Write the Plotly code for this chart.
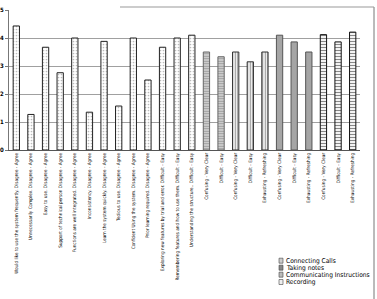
import plotly.graph_objects as go

labels = [
    "Would like to use the system frequently. Disagree - Agree",
    "Unnecessarily Complex. Disagree - Agree",
    "Easy to use. Disagree - Agree",
    "Support of technical person Disagree - Agree",
    "Functions are well integrated. Disagree - Agree",
    "Inconsistency. Disagree - Agree",
    "Learn the system quickly. Disagree - Agree",
    "Tedious to use. Disagree - Agree",
    "Confident Using the system. Disagree - Agree",
    "Prior learning required. Disagree - Agree",
    "Exploring new features by trial and error. Difficult - Easy",
    "Remembering features and how to use them. Difficult - Easy",
    "Understanding the structure.. Difficult - Easy",
    "Confusing - Very Clear",
    "Difficult - Easy",
    "Confusing - Very Clear",
    "Difficult - Easy",
    "Exhausting - Refreshing",
    "Confusing - Very Clear",
    "Difficult - Easy",
    "Exhausting - Refreshing",
    "Confusing - Very Clear",
    "Difficult - Easy",
    "Exhausting - Refreshing",
]

general_values = [4.43, 1.27, 3.67, 2.76, 4.0, 1.35, 3.88, 1.57, 4.0, 2.5, 3.67, 4.0, 4.1]
connecting_calls = [3.5, 3.33]
taking_notes = [3.5, 3.15, 3.5]
communicating_instructions = [4.1, 3.86, 3.5]
recording = [4.12, 3.86, 4.21]

series_names = ["Connecting Calls", "Taking notes", "Communicating Instructions", "Recording"]

FONT = "Liberation Sans Narrow, DejaVu Sans Condensed, Arial Narrow, sans-serif"

# layout geometry (pixels)
FW, FH = 377, 299
ML, MR, MT, MB = 9, 17, 10, 149
PW = FW - ML - MR
PH = FH - MT - MB


def px_x(px):
    return (px - ML) / PW


def px_y(py):
    return (FH - MB - py) / PH


fig = go.Figure()

groups = [
    (None, general_values, dict(shape=".", fgcolor="#777777", bgcolor="#ffffff", size=3, solidity=0.25), "#222222"),
    (series_names[0], connecting_calls, dict(shape="-", fgcolor="#555555", bgcolor="#dddddd", size=2.5, solidity=0.5), "#666666"),
    (series_names[1], taking_notes, dict(shape="|", fgcolor="#222222", bgcolor="#ffffff", size=2.5, solidity=0.45), "#333333"),
    (series_names[2], communicating_instructions, dict(shape=".", fgcolor="#555555", bgcolor="#bbbbbb", size=2, solidity=0.5), "#555555"),
    (series_names[3], recording, dict(shape="-", fgcolor="#111111", bgcolor="#ffffff", size=3, solidity=0.4), "#111111"),
]

start = 0
for name, vals, pat, line_col in groups:
    xs = list(range(start, start + len(vals)))
    start += len(vals)
    fig.add_trace(go.Bar(
        x=xs, y=vals, name=name or "",
        showlegend=False,
        width=0.43,
        marker=dict(color=pat["bgcolor"], pattern=pat,
                    line=dict(color=line_col, width=1)),
    ))

fig.update_layout(
    width=FW, height=FH,
    margin=dict(l=ML, r=MR, t=MT, b=MB),
    paper_bgcolor="white", plot_bgcolor="white",
    barmode="overlay",
    showlegend=False,
    font=dict(family=FONT, color="black"),
)

fig.update_xaxes(
    range=[-0.5, len(labels) - 0.5],
    tickmode="array",
    tickvals=list(range(len(labels))),
    ticktext=labels,
    tickangle=-90,
    tickfont=dict(size=4.7, family=FONT, color="black"),
    showline=True, linecolor="#555555", linewidth=1,
    ticks="", showgrid=False, automargin=False,
)
fig.update_yaxes(
    range=[0, 5], dtick=1,
    tickfont=dict(size=6, family="DejaVu Sans Condensed, sans-serif", color="black", weight="bold"),
    showline=True, linecolor="#777777", linewidth=1,
    ticks="outside", ticklen=3, tickcolor="#777777",
    showgrid=True, gridcolor="#a0a0a0", gridwidth=1,
    zeroline=False, automargin=False,
)

# chart frame (right and top)
fig.add_shape(type="line", xref="paper", yref="paper",
              x0=px_x(374), x1=px_x(374), y0=px_y(7), y1=px_y(299),
              line=dict(color="#777777", width=1))
fig.add_shape(type="line", xref="paper", yref="paper",
              x0=px_x(120), x1=px_x(374), y0=px_y(7), y1=px_y(7),
              line=dict(color="#999999", width=1))

# manual compact legend
leg_y = [260.7, 267.7, 274.7, 282.0]
leg_fill = ["#cccccc", "#888888", "#bbbbbb", "#eeeeee"]
for i, name in enumerate(series_names):
    cy = leg_y[i]
    fig.add_shape(type="rect", xref="paper", yref="paper",
                  x0=px_x(279), x1=px_x(283), y0=px_y(cy - 2.5), y1=px_y(cy + 2.5),
                  fillcolor=leg_fill[i], line=dict(color="#444444", width=0.6))
    fig.add_annotation(xref="paper", yref="paper", x=px_x(284), y=px_y(cy),
                       text=name, showarrow=False, xanchor="left", yanchor="middle",
                       font=dict(size=6.6, family=FONT, color="black"))

fig.write_html("out.html")
